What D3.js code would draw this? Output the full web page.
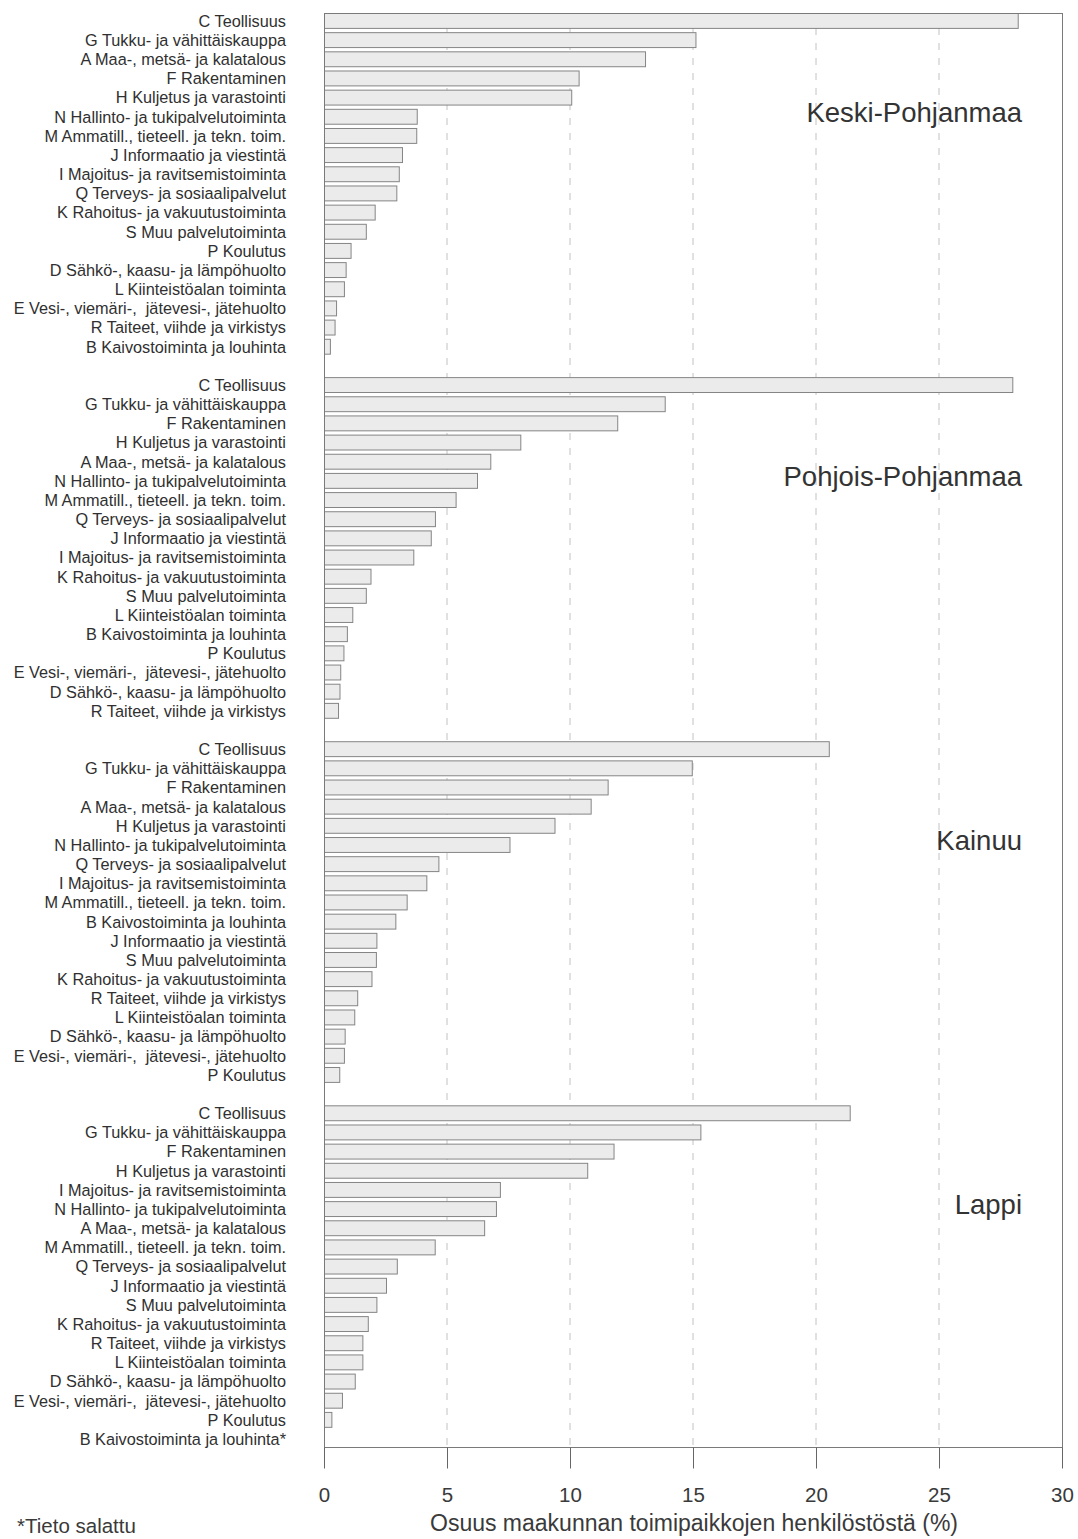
<!DOCTYPE html>
<html lang="fi">
<head>
<meta charset="utf-8">
<script src="https://cdn.jsdelivr.net/npm/d3@7"></script>
<style>
  html, body { margin: 0; padding: 0; background: #ffffff; }
  svg { display: block; font-family: "Liberation Sans", Arial, Helvetica, sans-serif; }
</style>
</head>
<body>
<svg id="chart" width="1078" height="1539"></svg>
<script>
// Region names, in drawing order
const regions = ["Keski-Pohjanmaa", "Pohjois-Pohjanmaa", "Kainuu", "Lappi"];

// Toimialat ja osuudet (%) maakunnittain, suurimmasta pienimpään
const keskiPohjanmaaCategories = [
  "C Teollisuus", "G Tukku- ja vähittäiskauppa", "A Maa-, metsä- ja kalatalous",
  "F Rakentaminen", "H Kuljetus ja varastointi", "N Hallinto- ja tukipalvelutoiminta",
  "M Ammatill., tieteell. ja tekn. toim.", "J Informaatio ja viestintä",
  "I Majoitus- ja ravitsemistoiminta", "Q Terveys- ja sosiaalipalvelut",
  "K Rahoitus- ja vakuutustoiminta", "S Muu palvelutoiminta", "P Koulutus",
  "D Sähkö-, kaasu- ja lämpöhuolto", "L Kiinteistöalan toiminta",
  "E Vesi-, viemäri-,  jätevesi-, jätehuolto", "R Taiteet, viihde ja virkistys",
  "B Kaivostoiminta ja louhinta"
];
const keskiPohjanmaaValues = [28.2, 15.1, 13.05, 10.35, 10.05, 3.77, 3.75, 3.17, 3.04, 2.94, 2.06, 1.70, 1.08, 0.88, 0.81, 0.49, 0.43, 0.24];

const pohjoisPohjanmaaCategories = [
  "C Teollisuus", "G Tukku- ja vähittäiskauppa", "F Rakentaminen",
  "H Kuljetus ja varastointi", "A Maa-, metsä- ja kalatalous",
  "N Hallinto- ja tukipalvelutoiminta", "M Ammatill., tieteell. ja tekn. toim.",
  "Q Terveys- ja sosiaalipalvelut", "J Informaatio ja viestintä",
  "I Majoitus- ja ravitsemistoiminta", "K Rahoitus- ja vakuutustoiminta",
  "S Muu palvelutoiminta", "L Kiinteistöalan toiminta", "B Kaivostoiminta ja louhinta",
  "P Koulutus", "E Vesi-, viemäri-,  jätevesi-, jätehuolto",
  "D Sähkö-, kaasu- ja lämpöhuolto", "R Taiteet, viihde ja virkistys"
];
const pohjoisPohjanmaaValues = [27.98, 13.85, 11.92, 7.98, 6.76, 6.22, 5.35, 4.51, 4.34, 3.63, 1.89, 1.70, 1.15, 0.93, 0.79, 0.66, 0.63, 0.57];

const kainuuCategories = [
  "C Teollisuus", "G Tukku- ja vähittäiskauppa", "F Rakentaminen",
  "A Maa-, metsä- ja kalatalous", "H Kuljetus ja varastointi",
  "N Hallinto- ja tukipalvelutoiminta", "Q Terveys- ja sosiaalipalvelut",
  "I Majoitus- ja ravitsemistoiminta", "M Ammatill., tieteell. ja tekn. toim.",
  "B Kaivostoiminta ja louhinta", "J Informaatio ja viestintä", "S Muu palvelutoiminta",
  "K Rahoitus- ja vakuutustoiminta", "R Taiteet, viihde ja virkistys",
  "L Kiinteistöalan toiminta", "D Sähkö-, kaasu- ja lämpöhuolto",
  "E Vesi-, viemäri-,  jätevesi-, jätehuolto", "P Koulutus"
];
const kainuuValues = [20.52, 14.95, 11.53, 10.84, 9.37, 7.54, 4.65, 4.16, 3.36, 2.90, 2.13, 2.11, 1.93, 1.35, 1.23, 0.84, 0.81, 0.62];

const lappiCategories = [
  "C Teollisuus", "G Tukku- ja vähittäiskauppa", "F Rakentaminen",
  "H Kuljetus ja varastointi", "I Majoitus- ja ravitsemistoiminta",
  "N Hallinto- ja tukipalvelutoiminta", "A Maa-, metsä- ja kalatalous",
  "M Ammatill., tieteell. ja tekn. toim.", "Q Terveys- ja sosiaalipalvelut",
  "J Informaatio ja viestintä", "S Muu palvelutoiminta",
  "K Rahoitus- ja vakuutustoiminta", "R Taiteet, viihde ja virkistys",
  "L Kiinteistöalan toiminta", "D Sähkö-, kaasu- ja lämpöhuolto",
  "E Vesi-, viemäri-,  jätevesi-, jätehuolto", "P Koulutus",
  "B Kaivostoiminta ja louhinta*"
];
// B: tieto salattu (no bar)
const lappiValues = [21.37, 15.3, 11.77, 10.7, 7.15, 6.99, 6.51, 4.5, 2.96, 2.52, 2.13, 1.78, 1.56, 1.56, 1.25, 0.73, 0.30, null];

const xTicks = [0, 5, 10, 15, 20, 25, 30];
const xTitle = "Osuus maakunnan toimipaikkojen henkilöstöstä (%)";
const footnote = "*Tieto salattu";

// Build one row list; an empty spacer row separates the regions
const panels = [
  { region: regions[0], cats: keskiPohjanmaaCategories, vals: keskiPohjanmaaValues },
  { region: regions[1], cats: pohjoisPohjanmaaCategories, vals: pohjoisPohjanmaaValues },
  { region: regions[2], cats: kainuuCategories, vals: kainuuValues },
  { region: regions[3], cats: lappiCategories, vals: lappiValues }
];
const rows = [];
panels.forEach((p, pi) => {
  if (pi > 0) rows.push({ key: "gap" + pi, spacer: true });
  p.cats.forEach((c, ci) => rows.push({ key: p.region + "|" + c, label: c, value: p.vals[ci], region: p.region, index: ci }));
});

const svg = d3.select("#chart");
const plot = { left: 324, right: 1062, top: 13, bottom: 1447 };

const x = d3.scaleLinear().domain([0, 30]).range([plot.left, plot.right]);
const y = d3.scaleBand()
  .domain(rows.map(r => r.key))
  .range([plot.top, plot.bottom])
  .paddingInner(0.17)
  .paddingOuter(0)
  .align(0);

// Dashed vertical gridlines
svg.append("g")
  .selectAll("line")
  .data(xTicks.filter(t => t > 0 && t < 30))
  .join("line")
  .attr("x1", d => x(d)).attr("x2", d => x(d))
  .attr("y1", plot.top).attr("y2", plot.bottom)
  .attr("stroke", "#c2c2c2")
  .attr("stroke-width", 1)
  .attr("stroke-dasharray", "7,8");

// Bars
const dataRows = rows.filter(r => !r.spacer);
svg.append("g")
  .selectAll("rect")
  .data(dataRows.filter(r => r.value != null))
  .join("rect")
  .attr("x", x(0) + 0.5)
  .attr("y", d => y(d.key) + 0.5)
  .attr("width", d => Math.max(0, x(d.value) - x(0)))
  .attr("height", y.bandwidth() - 1)
  .attr("fill", "#ebebeb")
  .attr("stroke", "#858585")
  .attr("stroke-width", 1);

// Category labels
svg.append("g")
  .selectAll("text")
  .data(dataRows)
  .join("text")
  .attr("x", 286)
  .attr("y", d => y(d.key) + y.bandwidth() / 2)
  .attr("dy", "0.36em")
  .attr("text-anchor", "end")
  .style("white-space", "pre")
  .attr("font-size", 16.3)
  .attr("fill", "#303030")
  .text(d => d.label);

// Region names inside the plot
svg.append("g")
  .selectAll("text")
  .data(panels)
  .join("text")
  .attr("x", 1022)
  .attr("y", p => y(p.region + "|" + p.cats[5]) + y.bandwidth() / 2 + 5)
  .attr("text-anchor", "end")
  .attr("font-size", 27.5)
  .attr("fill", "#333333")
  .text(p => p.region);

// Frame
svg.append("rect")
  .attr("x", plot.left + 0.5).attr("y", plot.top + 0.5)
  .attr("width", plot.right - plot.left).attr("height", plot.bottom - plot.top)
  .attr("fill", "none")
  .attr("stroke", "#7a7a7a")
  .attr("stroke-width", 1);

// Bottom axis
const axis = svg.append("g")
  .attr("transform", `translate(0,${plot.bottom + 0.5})`)
  .call(d3.axisBottom(x).tickValues(xTicks).tickSize(21).tickSizeOuter(0).tickPadding(19).tickFormat(d3.format("d")));
axis.select(".domain").remove();
axis.selectAll(".tick line").attr("stroke", "#666666");
axis.selectAll(".tick text")
  .attr("font-size", 20.5)
  .attr("font-family", "\"Liberation Sans\", Arial, Helvetica, sans-serif")
  .attr("fill", "#3a3a3a");

// Axis title
svg.append("text")
  .attr("x", (x(0) + x(30)) / 2 + 1)
  .attr("y", 1531)
  .attr("text-anchor", "middle")
  .attr("font-size", 23)
  .attr("fill", "#3a3a3a")
  .text(xTitle);

// Footnote
svg.append("text")
  .attr("x", 17)
  .attr("y", 1533)
  .attr("font-size", 20.5)
  .attr("fill", "#3a3a3a")
  .text(footnote);
</script>
</body>
</html>
